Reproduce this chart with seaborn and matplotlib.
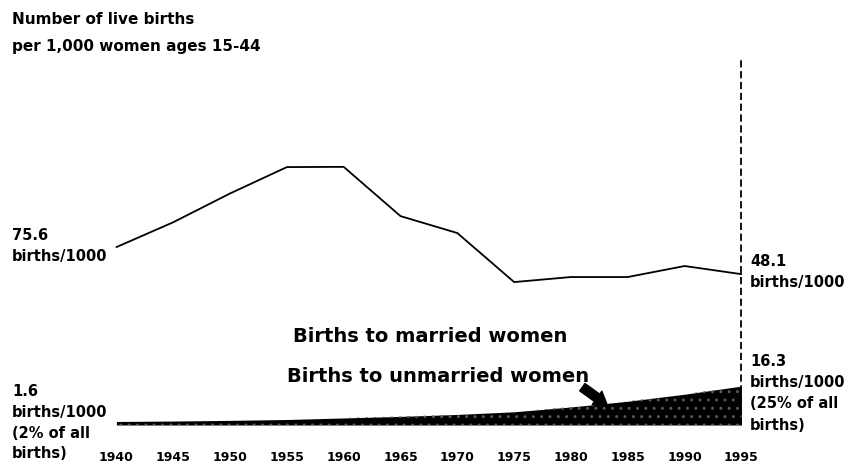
import seaborn as sns
import matplotlib.pyplot as plt
import pandas as pd

# values
years = [1940, 1945, 1950, 1955, 1960, 1965, 1970, 1975, 1980, 1985, 1990, 1995]
all_births = [80.9, 92.2, 105.3, 117.3, 117.4, 95.0, 87.3, 65.0, 67.3, 67.3, 72.3, 68.6]
unmarried_births = [1.6, 1.8, 2.1, 2.5, 3.2, 3.9, 4.8, 6.0, 8.2, 10.8, 14.0, 17.7]

df = pd.DataFrame({"year": years, "all": all_births, "unmarried": unmarried_births})

sns.set_style("white")
plt.rcParams["font.family"] = ["DejaVu Sans"]
plt.rcParams["font.weight"] = "bold"
plt.rcParams["text.color"] = "black"
plt.rcParams["xtick.color"] = "black"

W, H = 852, 467
fig = plt.figure(figsize=(W / 100, H / 100), dpi=100)


def px(x, y):
    return x / W, 1 - y / H


ax = fig.add_axes([113 / W, 42 / H, 629 / W, 365 / H])

sns.lineplot(data=df, x="year", y="all", color="black", linewidth=1.3, ax=ax)
ax.fill_between(df["year"], 0, df["unmarried"], color="black", linewidth=0)
ax.fill_between(df["year"], 0, df["unmarried"], facecolor="none",
                edgecolor="#555555", hatch="..", linewidth=0)

ax.axvline(1995, color="black", linewidth=1.3, linestyle=(0, (4, 2)))

ax.set_xlim(1939.7, 1995.05)
ax.set_ylim(0, 166)
ax.set_xticks(years)
ax.set_xticklabels([str(y) for y in years], fontsize=9, fontweight="bold")
ax.tick_params(axis="x", length=0, pad=19)
ax.set_yticks([])
ax.set_xlabel("")
ax.set_ylabel("")
for s in ax.spines.values():
    s.set_visible(False)

# title
fig.text(*px(12, 19), "Number of live births", fontsize=11, fontweight="bold", va="center")
fig.text(*px(12, 46), "per 1,000 women ages 15-44", fontsize=11, fontweight="bold", va="center")

# side labels, one text per line
side = dict(fontsize=10.5, fontweight="bold", va="center", ha="left")
for i, t in enumerate(["75.6", "births/1000"]):
    fig.text(*px(12, 235 + 21 * i), t, **side)
for i, t in enumerate(["48.1", "births/1000"]):
    fig.text(*px(750, 262 + 21 * i), t, **side)
for i, t in enumerate(["1.6", "births/1000", "(2% of all", "births)"]):
    fig.text(*px(12, 391 + 21 * i), t, **side)
for i, t in enumerate(["16.3", "births/1000", "(25% of all", "births)"]):
    fig.text(*px(750, 362 + 21 * i), t, **side)

# series labels
fig.text(*px(430, 337), "Births to married women", fontsize=14, va="center", ha="center")
fig.text(*px(438, 377), "Births to unmarried women", fontsize=14, va="center", ha="center")

ax.annotate("", xy=(1983.2, 9.0), xytext=(1981.0, 17.2),
            arrowprops=dict(arrowstyle="simple,head_width=0.9,head_length=0.7,tail_width=0.5",
                            color="black", mutation_scale=13, shrinkA=0, shrinkB=0))

fig.savefig("out.png", dpi=100)
